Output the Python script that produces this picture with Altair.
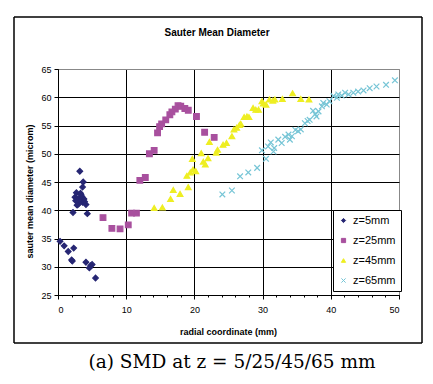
import altair as alt
import pandas as pd

series_names = ["z=5mm", "z=25mm", "z=45mm", "z=65mm"]
series_colors = ["#262673", "#A8509E", "#EEEE22", "#76C5D6"]
series_shapes = ["diamond", "square", "triangle-up", "M-1,-1L1,1M-1,1L1,-1"]

x5 = [0.3, 0.9, 1.5, 2.3, 2.0, 2.1, 4.1, 4.6, 4.8, 5.0, 5.5, 3.2, 3.7, 3.6, 2.2, 4.3, 4.1,
      2.5, 2.7, 3.0, 3.1, 3.5, 3.6, 3.8, 3.3, 2.8, 2.6, 3.9, 3.4, 2.9]
y5 = [34.5, 33.7, 32.7, 33.3, 31.2, 31.0, 30.8, 29.8, 30.2, 30.4, 28.0, 46.9, 45.0, 44.1, 39.6, 39.4, 41.0,
      42.3, 43.1, 41.1, 41.9, 42.4, 41.4, 42.0, 43.0, 40.9, 41.7, 41.5, 42.7, 42.0]

x25 = [6.6, 7.9, 9.1, 10.3, 10.8, 11.5, 12.0, 12.8, 13.4, 14.1, 14.6, 14.9, 15.2, 15.8, 16.4, 16.7,
       17.2, 17.6, 18.0, 18.6, 19.1, 20.3, 21.5, 22.9]
y25 = [38.7, 36.8, 36.7, 37.4, 39.5, 39.5, 45.3, 45.8, 50.0, 50.6, 53.7, 54.8, 55.3, 56.0, 56.9, 57.4,
       57.9, 58.5, 58.4, 58.0, 57.7, 56.6, 53.8, 52.9]

x45 = [14.1, 15.3, 16.5, 16.9, 17.9, 19.1, 18.9, 19.4, 19.8, 20.2, 19.7, 21.0, 21.3, 21.6, 22.0, 22.2,
       23.2, 23.4, 24.2, 24.7, 25.5, 25.8, 26.2, 26.6, 26.8, 27.3, 27.7, 28.0, 28.6, 29.0, 29.4, 29.9,
       30.1, 30.5, 31.0, 31.5, 31.8, 32.9, 34.4, 35.6, 36.8]
y45 = [40.4, 40.5, 42.0, 43.6, 42.9, 44.1, 46.1, 46.7, 47.2, 46.9, 49.1, 50.1, 48.6, 48.1, 49.2, 52.1,
       50.2, 50.7, 51.6, 51.9, 53.1, 54.3, 54.6, 55.1, 55.3, 56.5, 56.6, 56.5, 58.1, 57.8, 57.8, 59.3,
       58.9, 58.7, 59.6, 59.4, 59.6, 59.7, 60.7, 59.7, 59.6]

x65 = [24.1, 25.5, 26.7, 27.9, 29.2, 30.5, 29.9, 30.8, 31.2, 31.6, 31.7, 32.3, 32.8, 33.3, 33.8, 34.0,
       34.3, 34.8, 35.2, 35.6, 36.2, 36.6, 36.9, 37.4, 37.7, 37.9, 38.2, 38.7, 38.9, 39.4, 39.8, 40.4,
       40.9, 41.1, 41.6, 42.1, 42.6, 43.3, 44.0, 44.8, 45.7, 46.7, 48.1, 49.4]
y65 = [42.8, 43.5, 46.0, 46.7, 47.5, 49.1, 50.6, 51.3, 52.0, 50.4, 51.0, 52.5, 51.9, 53.0, 53.4, 52.5,
       53.1, 54.2, 54.0, 54.3, 55.4, 55.8, 56.0, 57.6, 57.0, 56.6, 57.5, 58.4, 59.0, 58.7, 59.3, 60.2,
       59.9, 60.5, 60.3, 60.8, 60.5, 60.8, 61.0, 61.2, 61.6, 61.9, 62.2, 63.0]

x_ticks = [0, 10, 20, 30, 40, 50]
x_minor = [2, 4, 6, 8, 12, 14, 16, 18, 22, 24, 26, 28, 32, 34, 36, 38, 42, 44, 46, 48]
y_ticks = [25, 30, 35, 40, 45, 50, 55, 60, 65]

chart_title = "Sauter Mean Diameter"
caption = "(a) SMD at z = 5/25/45/65 mm"
x_title = "radial coordinate (mm)"
y_title = "sauter mean diameter (microm)"

rows = []
for name, xs, ys in [(series_names[0], x5, y5), (series_names[1], x25, y25),
                     (series_names[2], x45, y45), (series_names[3], x65, y65)]:
    for a, b in zip(xs, ys):
        rows.append({"r": a, "d": b, "series": name})
df = pd.DataFrame(rows)

FONT = "Liberation Sans"
xscale = alt.Scale(domain=[0, 50], nice=False, zero=False)
yscale = alt.Scale(domain=[25, 65], nice=False, zero=False)

legend = alt.Legend(
    title=None, orient="none", legendX=275, legendY=141,
    strokeColor="black", fillColor="white", padding=5, rowPadding=8,
    symbolSize=18, symbolStrokeWidth=1, labelFontSize=11, labelFont=FONT,
    labelColor="black", labelOffset=4, cornerRadius=0,
)
sort = series_names

points = alt.Chart(df).mark_point(filled=False, size=32, strokeWidth=1.2, opacity=1).encode(
    x=alt.X("r:Q", scale=xscale, axis=alt.Axis(
        values=x_ticks, title=x_title, grid=True,
        gridColor={"condition": {"test": "datum.value >= 50", "value": "#888888"}, "value": "black"},
        gridWidth=1, tickSize=4, tickColor="black", domainColor="black",
        labelFontSize=9, labelFont=FONT, labelColor="black", labelPadding=6,
        titleFontSize=9, titleFont=FONT, titleFontWeight="bold", titleColor="black",
        titleX=170, titleY=36, titleBaseline="middle", titleAlign="center")),
    y=alt.Y("d:Q", scale=yscale, axis=alt.Axis(
        values=y_ticks, title=y_title, grid=True,
        gridColor={"condition": {"test": "datum.value >= 65", "value": "#888888"}, "value": "black"},
        gridWidth=1, tickSize=4, tickColor="black", domainColor="black",
        labelFontSize=9, labelFont=FONT, labelColor="black", labelPadding=3,
        titleFontSize=9, titleFont=FONT, titleFontWeight="bold", titleColor="black",
        titleX=-29, titleY=122, titleAngle=270, titleBaseline="middle", titleAlign="center")),
    color=alt.Color("series:N", sort=sort, scale=alt.Scale(domain=series_names, range=series_colors), legend=legend),
    fill=alt.Fill("series:N", sort=sort, scale=alt.Scale(domain=series_names, range=series_colors), legend=legend),
    shape=alt.Shape("series:N", sort=sort, scale=alt.Scale(domain=series_names, range=series_shapes), legend=legend),
)

minor = alt.Chart(pd.DataFrame({"m": x_minor})).mark_point(opacity=0).encode(
    x=alt.X("m:Q", scale=xscale, axis=alt.Axis(
        values=x_minor, labels=False, grid=False, domain=False, tickSize=2,
        tickColor="black", orient="bottom", title=None)),
    y=alt.value(0),
)

# outer chart frame drawn as four rules (decoration)
one = alt.Data(values=[{"k": 1}])
FL, FR, FT, FB = -44, 364, -52, 274
def hline(yv):
    return alt.Chart(one).mark_rule(stroke="black", strokeWidth=1.5).encode(
        x=alt.value(FL), x2=alt.value(FR), y=alt.value(yv))
def vline(xv):
    return alt.Chart(one).mark_rule(stroke="black", strokeWidth=1.5).encode(
        x=alt.value(xv), y=alt.value(FT), y2=alt.value(FB))
frame = [hline(FT), hline(FB), vline(FL), vline(FR)]

title_txt = alt.Chart(one).mark_text(font=FONT, fontSize=10, fontWeight="bold", color="black",
                                     baseline="middle", align="center").encode(
    x=alt.value(159), y=alt.value(-36), text=alt.value(chart_title))
cap_txt = alt.Chart(one).mark_text(font="DejaVu Serif", fontSize=18.5, color="black",
                                   baseline="alphabetic", align="center").encode(
    x=alt.value(174), y=alt.value(299), text=alt.value(caption))

chart = alt.layer(*frame, points, minor, title_txt, cap_txt).resolve_axis(x="independent").properties(
    width=341, height=226,
    autosize=alt.AutoSizeParams(type="none"),
    padding={"left": 50, "top": 61, "right": 26, "bottom": 79},
    background="white",
).configure_view(stroke="#888888", strokeWidth=1)

chart.save("out.html", embed_options={"renderer": "svg", "actions": False})
